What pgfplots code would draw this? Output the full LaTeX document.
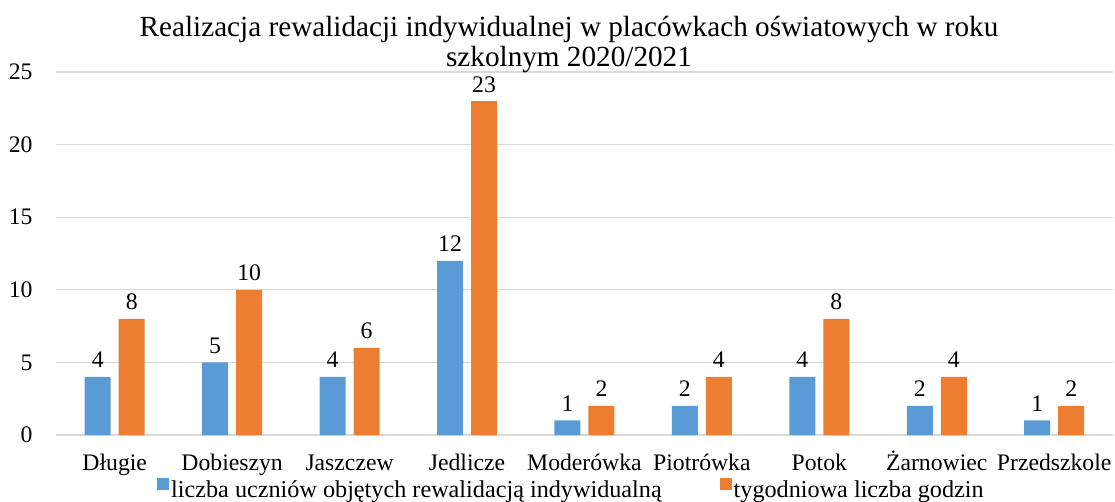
\documentclass[border=0pt]{standalone}
\usepackage{pgfplots}
\pgfplotsset{compat=1.18}
\usepackage{fontspec}
\setmainfont{Liberation Serif}
\definecolor{cblue}{HTML}{5B9BD5}
\definecolor{corange}{HTML}{ED7D31}
\definecolor{cgrid}{HTML}{D9D9D9}
\begin{document}
\begin{tikzpicture}
\path[use as bounding box] (0,0) rectangle (1115pt,501pt);
\begin{axis}[
  at={(56pt,66pt)}, anchor=south west,
  scale only axis, width=1057pt, height=363pt,
  xmin=-0.5, xmax=8.5, ymin=0, ymax=25,
  ytick={0,5,10,15,20,25},
  xtick=data,
  xticklabels={Długie,Dobieszyn,Jaszczew,Jedlicze,Moderówka,Piotrówka,Potok,Żarnowiec,Przedszkole},
  axis line style={draw=none},
  major tick length=0pt,
  ymajorgrids, grid style={cgrid, line width=1.3pt},
  /pgf/number format/assume math mode=true,
  tick label style={font=\fontsize{23.7}{27}\selectfont},
  yticklabel style={xshift=-20pt},
  xticklabel style={anchor=base, yshift=-35pt},
  ybar=8pt, bar width=26pt,
  nodes near coords,
  every node near coord/.append style={font=\fontsize{23.7}{27}\selectfont, text=black, inner sep=0pt, anchor=base, yshift=9pt},
  clip=false,
  legend style={at={(0.4877,-0.151)}, anchor=center, draw=none, fill=none,
    font=\fontsize{24.2}{27}\selectfont, legend columns=2,
    /tikz/every even column/.append style={column sep=56pt},
    /tikz/every odd column/.append style={column sep=0pt},
    legend cell align=left},
  legend image code/.code={\fill[#1] (0pt,0pt) rectangle (12pt,12pt);},
]
\addplot[fill=cblue, draw=none] coordinates {(0,4) (1,5) (2,4) (3,12) (4,1) (5,2) (6,4) (7,2) (8,1)};
\addplot[fill=corange, draw=none] coordinates {(0,8) (1,10) (2,6) (3,23) (4,2) (5,4) (6,8) (7,4) (8,2)};
\legend{liczba uczniów objętych rewalidacją indywidualną, tygodniowa liczba godzin}
\end{axis}
\node[font=\fontsize{29.2}{30}\selectfont, align=center, anchor=base] at (569pt,464pt) {Realizacja rewalidacji indywidualnej w placówkach oświatowych w roku};
\node[font=\fontsize{29.2}{30}\selectfont, align=center, anchor=base] at (569pt,434pt) {szkolnym 2020/2021};
\end{tikzpicture}
\end{document}
